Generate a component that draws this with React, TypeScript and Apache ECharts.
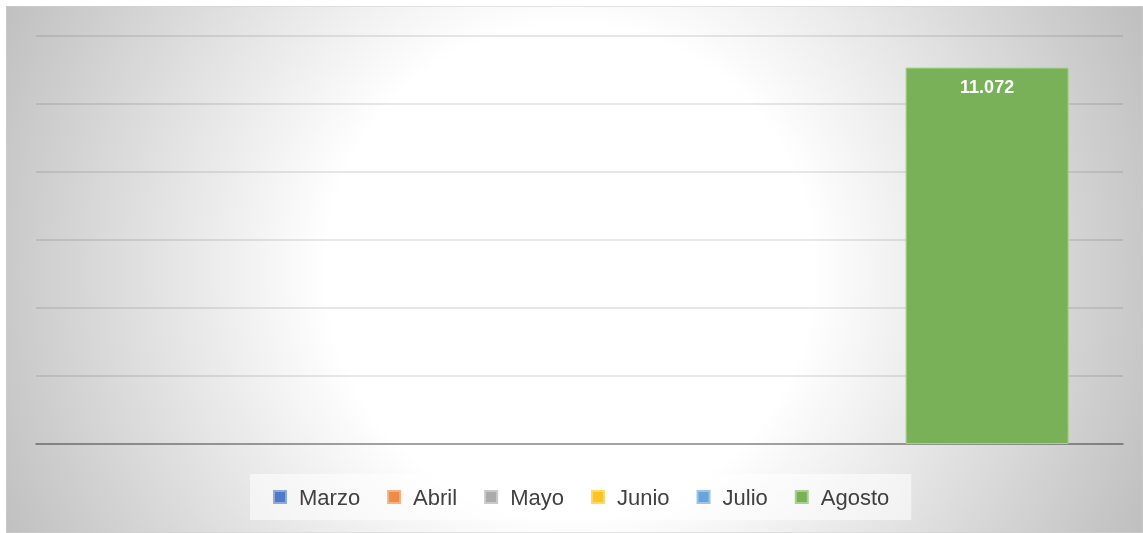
import React, { useEffect, useRef } from "react";
import * as echarts from "echarts";

const categories = [""];
const seriesNames = ["Marzo", "Abril", "Mayo", "Junio", "Julio", "Agosto"];
const seriesValues: (number | null)[] = [null, null, null, null, null, 11072];
const seriesColors = ["#4f79c9", "#ef8a47", "#aaaaaa", "#ffc325", "#6aa3d9", "#78b158"];
const seriesBorders = ["#8eaadc", "#f4b183", "#c9c9c9", "#ffd966", "#9dc3e6", "#a9d18e"];

const fmt = (v: number) => String(Math.round(v)).replace(/\B(?=(\d{3})+(?!\d))/g, ".");

export default function App() {
  const ref = useRef<HTMLDivElement>(null);
  useEffect(() => {
    if (!ref.current) return;
    const chart = echarts.init(ref.current, null, { renderer: "svg" });
    const W = 1137;
    const H = 527;
    chart.setOption({
      animation: false,
      graphic: [
        {
          type: "rect",
          z: -10,
          silent: true,
          shape: { x: 0, y: 0, width: W, height: H },
          style: {
            fill: {
              type: "radial",
              x: 564,
              y: 264,
              r: 640,
              global: true,
              colorStops: [
                { offset: 0, color: "#ffffff" },
                { offset: 0.38, color: "#ffffff" },
                { offset: 1, color: "#bdbdbd" },
              ],
            },
            stroke: "#cfcfcf",
            lineWidth: 1,
          },
        },
      ],
      legend: {
        left: 244,
        top: 468,
        padding: [12, 22, 12, 23],
        backgroundColor: "rgba(255,255,255,0.55)",
        itemWidth: 12,
        itemHeight: 12,
        itemGap: 27,
        icon: "rect",
        textStyle: {
          fontFamily: "Liberation Sans",
          fontSize: 22,
          color: "#404040",
          padding: [0, 0, 0, 8],
        },
        data: seriesNames,
      },
      grid: { left: 30, right: 20, top: 30, bottom: 89 },
      xAxis: {
        type: "category",
        data: categories,
        axisLine: { show: true, lineStyle: { color: "rgba(0,0,0,0.4)", width: 1.5 } },
        axisTick: { show: false },
        axisLabel: { show: false },
      },
      yAxis: {
        type: "value",
        min: 0,
        max: 12000,
        interval: 2000,
        axisLabel: { show: false },
        axisLine: { show: false },
        axisTick: { show: false },
        splitLine: { lineStyle: { color: "rgba(0,0,0,0.12)", width: 1.5 } },
      },
      series: seriesNames.map((name, i) => ({
        name,
        type: "bar",
        data: [seriesValues[i]],
        barGap: "0%",
        barCategoryGap: "10%",
        itemStyle: { color: seriesColors[i], borderColor: seriesBorders[i], borderWidth: 1 },
        label: {
          show: seriesValues[i] !== null,
          position: "insideTop",
          distance: 10,
          color: "#ffffff",
          fontFamily: "Liberation Sans",
          fontWeight: "bold",
          fontSize: 18,
          formatter: (p: any) => fmt(p.value),
        },
      })),
    });
    return () => chart.dispose();
  }, []);
  return (
    <div
      ref={ref}
      style={{ position: "fixed", left: 6, top: 6, width: 1137, height: 527 }}
    />
  );
}
